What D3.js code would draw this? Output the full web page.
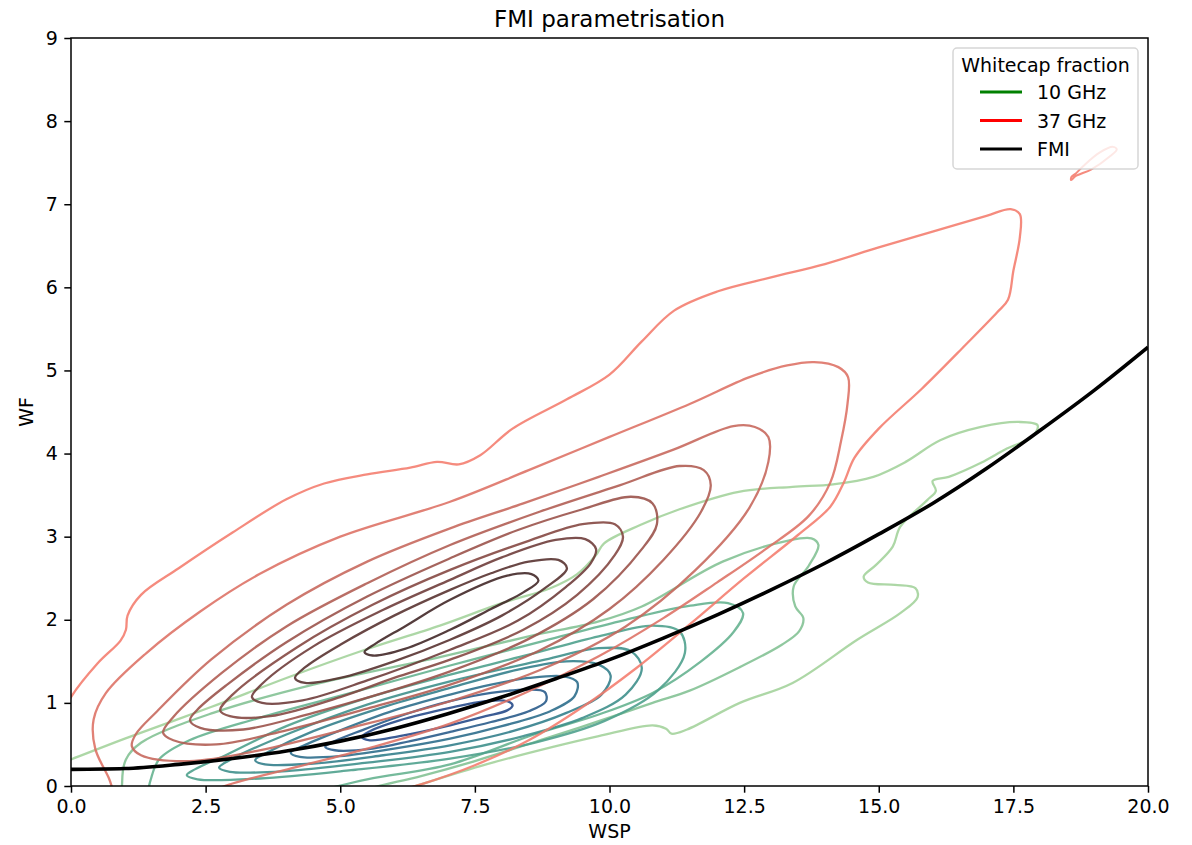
<!DOCTYPE html>
<html>
<head>
<meta charset="utf-8">
<script src="https://d3js.org/d3.v7.min.js"></script>
<style>
  body { margin: 0; background: #fff; }
  svg text { font-family: "DejaVu Sans", sans-serif; fill: #000; }
</style>
</head>
<body>
<svg id="chart" width="1192" height="845"></svg>
<script>
// axis ticks
var xTicks = [0, 2.5, 5, 7.5, 10, 12.5, 15, 17.5, 20];
var yTicks = [0, 1, 2, 3, 4, 5, 6, 7, 8, 9];

// FMI parametrisation curve
var fmiWsp = [0, 1, 2, 3, 4, 5, 6, 7, 8, 9, 10, 11, 12, 13, 14, 15, 16, 17, 18, 19, 20];
var fmiWf  = [0.20, 0.21, 0.26, 0.33, 0.42, 0.54, 0.69, 0.87, 1.07, 1.29, 1.52, 1.78, 2.06, 2.36, 2.68, 3.03, 3.40, 3.82, 4.28, 4.76, 5.28];

// 10 GHz density contours [wsp, wf], outermost level first
var ghz10 = [
  [[-0.5,0.2],[0,0.32],[1.0,0.57],[2.6,0.95],[4.0,1.3],[5.42,1.63],[6.85,1.93],[8.0,2.2],[8.9,2.38],[9.4,2.55],[9.75,2.78],[9.9,2.92],[10.57,3.14],[11.3,3.33],[12.4,3.54],[13.4,3.6],[14.15,3.63],[14.9,3.72],[15.5,3.9],[16.14,4.16],[16.9,4.32],[17.6,4.38],[17.95,4.34],[17.85,4.2],[17.38,4.06],[16.9,3.89],[16.3,3.72],[16.0,3.67],[16.06,3.55],[15.9,3.44],[15.4,3.12],[15.26,2.88],[14.95,2.66],[14.72,2.52],[14.8,2.45],[15.3,2.42],[15.68,2.38],[15.72,2.27],[15.4,2.08],[14.6,1.76],[13.4,1.24],[12.42,1.0],[11.44,0.68],[11.15,0.63],[11.05,0.69],[10.8,0.73],[9.8,0.6],[8.95,0.47],[7.6,0.24],[6.4,0.0],[5.0,-0.3],[2.0,-0.5],[-0.5,-0.3]],
  [[1.0,-0.2],[0.95,0.05],[1.02,0.32],[1.3,0.52],[2.64,0.88],[4.5,1.22],[6.85,1.55],[8.5,1.8],[9.8,1.98],[10.6,2.16],[12.1,2.7],[13.3,2.95],[13.75,2.98],[13.88,2.9],[13.7,2.65],[13.42,2.4],[13.45,2.16],[13.6,2.02],[13.52,1.86],[13.2,1.7],[12.42,1.43],[11.5,1.15],[10.8,1.0],[9.8,0.78],[8.95,0.6],[7.5,0.3],[6.5,0.12],[5.6,-0.02],[4.0,-0.3],[2.0,-0.35]],
  [[1.47,-0.1],[1.5,0.12],[1.65,0.33],[2.2,0.55],[3.5,0.82],[5.2,1.12],[7.04,1.45],[8.8,1.75],[10.3,2.0],[11.5,2.17],[12.2,2.2],[12.48,2.08],[12.3,1.85],[11.7,1.5],[10.8,1.12],[9.8,0.86],[8.6,0.62],[7.04,0.26],[5.5,0.08],[4.3,-0.1],[2.5,-0.3]],
  [[2.15,0.13],[2.35,0.08],[3.5,0.09],[5.2,0.19],[7.04,0.33],[8.6,0.52],[9.9,0.78],[10.9,1.15],[11.4,1.6],[11.3,1.86],[10.8,1.93],[9.8,1.8],[8.5,1.58],[7.04,1.34],[5.5,1.06],[4.0,0.72],[2.9,0.38],[2.3,0.2]],
  [[2.75,0.22],[2.95,0.17],[4.0,0.18],[5.5,0.28],[7.04,0.41],[8.4,0.6],[9.5,0.82],[10.3,1.1],[10.6,1.42],[10.4,1.62],[9.8,1.66],[8.8,1.52],[7.04,1.26],[5.5,0.98],[4.0,0.62],[3.0,0.33]],
  [[3.42,0.31],[3.6,0.26],[4.5,0.27],[5.8,0.37],[7.04,0.49],[8.2,0.66],[9.2,0.88],[9.85,1.1],[10.02,1.33],[9.8,1.46],[9.2,1.5],[8.3,1.4],[7.04,1.18],[5.8,0.95],[4.5,0.66],[3.7,0.42]],
  [[4.08,0.40],[4.25,0.35],[5.0,0.36],[6.0,0.45],[7.04,0.57],[8.0,0.72],[8.9,0.9],[9.35,1.08],[9.4,1.25],[9.15,1.32],[8.5,1.3],[7.8,1.22],[7.04,1.1],[6.0,0.91],[5.0,0.67],[4.3,0.48]],
  [[4.72,0.47],[4.9,0.43],[5.6,0.45],[6.3,0.54],[7.04,0.65],[7.8,0.77],[8.5,0.9],[8.82,1.02],[8.8,1.13],[8.5,1.16],[7.8,1.12],[7.04,1.02],[6.2,0.86],[5.4,0.67],[4.9,0.54]],
  [[5.40,0.59],[5.55,0.55],[6.1,0.6],[7.04,0.73],[7.7,0.84],[8.1,0.91],[8.2,0.97],[8.1,1.02],[7.7,1.02],[7.04,0.94],[6.1,0.79],[5.55,0.66]]
];

// 37 GHz density contours [wsp, wf], outermost level first
var ghz37 = [
  [[-0.5,0.4],[0,1.07],[0.5,1.48],[0.92,1.75],[1.02,1.88],[1.05,2.05],[1.3,2.3],[2.0,2.62],[3.0,3.05],[4.0,3.45],[4.7,3.64],[5.5,3.75],[6.3,3.83],[6.8,3.9],[7.2,3.87],[7.6,3.98],[8.2,4.3],[9.2,4.65],[10.0,4.95],[10.6,5.35],[11.2,5.72],[12.0,5.95],[13.0,6.12],[14.0,6.28],[15.0,6.48],[16.0,6.67],[17.0,6.86],[17.45,6.94],[17.62,6.88],[17.62,6.6],[17.5,6.2],[17.4,5.85],[17.2,5.7],[16.6,5.3],[15.8,4.78],[15.0,4.3],[14.55,3.95],[14.35,3.65],[14.1,3.36],[13.5,3.02],[12.5,2.5],[11.5,1.95],[10.5,1.42],[9.5,0.95],[8.5,0.55],[7.5,0.25],[6.5,0.02],[5.7,-0.12],[4.0,-0.5],[1.5,-0.6]],
  [[0.9,-0.2],[0.7,0.1],[0.45,0.45],[0.42,0.8],[0.65,1.12],[1.4,1.6],[2.4,2.1],[3.5,2.55],[5.0,3.0],[7.04,3.42],[8.5,3.8],[10.0,4.2],[11.5,4.6],[12.6,4.92],[13.3,5.06],[13.8,5.1],[14.25,5.04],[14.43,4.92],[14.42,4.6],[14.3,4.15],[14.1,3.65],[13.7,3.25],[12.9,2.85],[12.0,2.45],[11.0,2.02],[9.8,1.56],[8.5,1.14],[7.04,0.75],[5.5,0.45],[4.2,0.23],[3.0,0.03],[2.0,-0.2],[1.4,-0.3]],
  [[1.13,0.48],[1.3,0.37],[2.2,0.3],[3.5,0.43],[5.2,0.7],[7.04,1.02],[8.8,1.42],[10.3,1.92],[11.6,2.6],[12.6,3.35],[12.95,3.9],[12.95,4.2],[12.7,4.32],[12.3,4.33],[11.2,4.05],[9.8,3.72],[8.4,3.4],[7.04,3.1],[5.5,2.7],[4.0,2.18],[2.6,1.52],[1.6,0.9],[1.2,0.62]],
  [[1.71,0.64],[1.9,0.55],[2.7,0.5],[4.0,0.67],[5.5,0.93],[7.04,1.22],[8.7,1.63],[10.0,2.13],[11.0,2.72],[11.7,3.3],[11.88,3.62],[11.75,3.8],[11.3,3.85],[10.2,3.62],[8.7,3.3],[7.04,2.9],[5.5,2.44],[4.0,1.92],[2.8,1.36],[1.9,0.83]],
  [[2.21,0.79],[2.4,0.7],[3.2,0.68],[4.5,0.88],[5.8,1.12],[7.04,1.38],[8.5,1.77],[9.7,2.25],[10.6,2.85],[10.88,3.15],[10.8,3.4],[10.4,3.48],[9.5,3.33],[8.3,3.08],[7.04,2.74],[5.5,2.28],[4.0,1.73],[2.9,1.22],[2.35,0.92]],
  [[2.77,0.91],[2.95,0.84],[3.7,0.84],[5.0,1.07],[6.0,1.3],[7.04,1.52],[8.4,1.88],[9.4,2.3],[10.1,2.78],[10.25,3.0],[10.1,3.15],[9.5,3.15],[8.5,2.95],[7.04,2.6],[5.6,2.18],[4.2,1.67],[3.0,1.1]],
  [[3.36,1.07],[3.55,1.0],[4.3,1.03],[5.5,1.27],[7.04,1.64],[8.3,1.99],[9.2,2.4],[9.65,2.68],[9.75,2.85],[9.55,2.97],[9.0,2.96],[8.0,2.75],[7.04,2.48],[5.8,2.12],[4.5,1.68],[3.55,1.23]],
  [[4.16,1.30],[4.35,1.24],[5.0,1.3],[6.0,1.5],[7.04,1.76],[8.0,2.05],[8.8,2.38],[9.21,2.62],[9.05,2.72],[8.5,2.7],[7.8,2.56],[7.04,2.36],[6.0,2.05],[5.0,1.7],[4.35,1.43]],
  [[5.45,1.61],[5.6,1.57],[6.2,1.65],[7.04,1.88],[7.8,2.13],[8.4,2.33],[8.68,2.47],[8.55,2.55],[8.1,2.53],[7.04,2.24],[6.2,1.92],[5.65,1.71]]
];
// small outer-level island of the 37 GHz density near the legend
var ghz37Island = [[18.57,7.29],[18.66,7.34],[18.95,7.42],[19.3,7.58],[19.42,7.66],[19.35,7.69],[19.1,7.62],[18.8,7.46],[18.66,7.37],[18.58,7.33]];

var svg = d3.select("#chart");
var plotLeft = 71, plotRight = 1148, plotTop = 38, plotBottom = 786;

var x = d3.scaleLinear().domain([0, 20]).range([plotLeft, plotRight]);
var y = d3.scaleLinear().domain([0, 9]).range([plotBottom, plotTop]);

var greenColors = d3.quantize(d3.interpolateRgbBasis(["#a4d39c", "#62b28e", "#3a8f8c", "#2d6f8c", "#274a8a"]), ghz10.length);
var redColors = d3.quantize(d3.interpolateRgb("#f47b6c", "#3d2222"), ghz37.length);

svg.append("clipPath").attr("id", "plotclip")
  .append("rect").attr("x", plotLeft).attr("y", plotTop)
  .attr("width", plotRight - plotLeft).attr("height", plotBottom - plotTop);

var ring = d3.line()
  .x(function(d) { return x(d[0]); })
  .y(function(d) { return y(d[1]); })
  .curve(d3.curveCatmullRomClosed.alpha(0.5));

var plot = svg.append("g").attr("clip-path", "url(#plotclip)");

plot.append("g").selectAll("path")
  .data(ghz10)
  .enter().append("path")
  .attr("d", ring)
  .attr("fill", "none")
  .attr("stroke", function(d, i) { return greenColors[i]; })
  .attr("stroke-opacity", 0.9)
  .attr("stroke-width", 2.3);

plot.append("g").selectAll("path")
  .data(ghz37)
  .enter().append("path")
  .attr("d", ring)
  .attr("fill", "none")
  .attr("stroke", function(d, i) { return redColors[i]; })
  .attr("stroke-opacity", 0.88)
  .attr("stroke-width", 2.3);

plot.append("path")
  .datum(ghz37Island)
  .attr("d", ring)
  .attr("fill", "none")
  .attr("stroke", redColors[0])
  .attr("stroke-opacity", 0.88)
  .attr("stroke-width", 2);

var fmiLine = d3.line()
  .x(function(d, i) { return x(fmiWsp[i]); })
  .y(function(d) { return y(d); })
  .curve(d3.curveMonotoneX);

plot.append("path")
  .datum(fmiWf)
  .attr("d", fmiLine)
  .attr("fill", "none")
  .attr("stroke", "#000")
  .attr("stroke-width", 3.6);

// axes
var xAxis = svg.append("g")
  .attr("transform", "translate(0," + plotBottom + ")")
  .call(d3.axisBottom(x).tickValues(xTicks).tickFormat(d3.format(".1f"))
    .tickSize(6.7).tickPadding(6.5).tickSizeOuter(0));
var yAxis = svg.append("g")
  .attr("transform", "translate(" + plotLeft + ",0)")
  .call(d3.axisLeft(y).tickValues(yTicks).tickFormat(d3.format("d"))
    .tickSize(6.7).tickPadding(6.5).tickSizeOuter(0));
[xAxis, yAxis].forEach(function(a) {
  a.select(".domain").remove();
  a.selectAll(".tick line").attr("stroke", "#000").attr("stroke-width", 1.5);
  a.selectAll(".tick text").attr("font-size", 19).attr("font-family", "DejaVu Sans").attr("fill", "#000");
});

svg.append("rect")
  .attr("x", plotLeft).attr("y", plotTop)
  .attr("width", plotRight - plotLeft).attr("height", plotBottom - plotTop)
  .attr("fill", "none").attr("stroke", "#000").attr("stroke-width", 1.5);

svg.append("text")
  .attr("x", (plotLeft + plotRight) / 2).attr("y", 27)
  .attr("text-anchor", "middle").attr("font-size", 23)
  .text("FMI parametrisation");

svg.append("text")
  .attr("x", (plotLeft + plotRight) / 2).attr("y", 838)
  .attr("text-anchor", "middle").attr("font-size", 19)
  .text("WSP");

svg.append("text")
  .attr("transform", "translate(33," + (plotTop + plotBottom) / 2 + ") rotate(-90)")
  .attr("text-anchor", "middle").attr("font-size", 19)
  .text("WF");

// legend
var legend = svg.append("g");
legend.append("rect")
  .attr("x", 953).attr("y", 48).attr("width", 185).attr("height", 121).attr("rx", 4)
  .attr("fill", "#fff").attr("fill-opacity", 0.8)
  .attr("stroke", "#ccc").attr("stroke-opacity", 0.8).attr("stroke-width", 1.5);
legend.append("text")
  .attr("x", 1045.5).attr("y", 72)
  .attr("text-anchor", "middle").attr("font-size", 19)
  .text("Whitecap fraction");

var legendItems = [
  { label: "10 GHz", color: "green" },
  { label: "37 GHz", color: "red" },
  { label: "FMI", color: "black" }
];
var item = legend.selectAll("g.item")
  .data(legendItems)
  .enter().append("g")
  .attr("class", "item")
  .attr("transform", function(d, i) { return "translate(0," + (92 + i * 28.5) + ")"; });
item.append("line")
  .attr("x1", 980).attr("x2", 1022)
  .attr("stroke", function(d) { return d.color; })
  .attr("stroke-width", 2.9);
item.append("text")
  .attr("x", 1037).attr("y", 7)
  .attr("font-size", 19)
  .text(function(d) { return d.label; });
</script>
</body>
</html>
